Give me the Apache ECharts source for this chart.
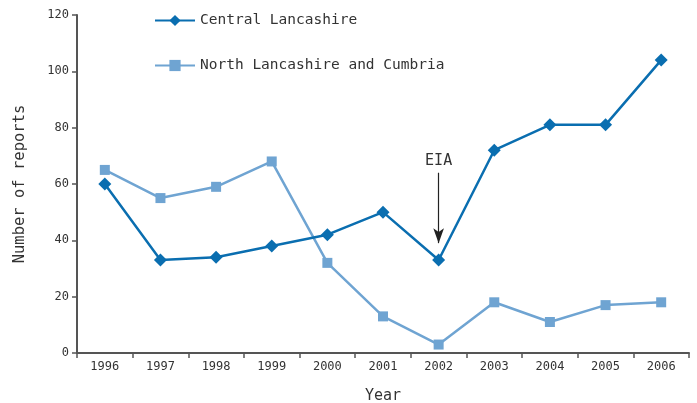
<!DOCTYPE html>
<html>
<head>
<meta charset="utf-8">
<script src="https://cdn.jsdelivr.net/npm/echarts@6/dist/echarts.min.js"></script>
<style>
html,body{margin:0;padding:0;background:#fff;}
#chart{width:697px;height:403px;}
</style>
</head>
<body>
<div id="chart"></div>
<script>
var years = ['1996','1997','1998','1999','2000','2001','2002','2003','2004','2005','2006'];
var central = [60, 33, 34, 38, 42, 50, 33, 72, 81, 81, 104];
var north = [65, 55, 59, 68, 32, 13, 3, 18, 11, 17, 18];
var yTicks = [0, 20, 40, 60, 80, 100, 120];
var eiaYear = '2002', eiaFrom = 64, eiaTo = 39;

var FONT = 'DejaVu Sans Mono';
var axisColor = '#555555';
var textColor = '#333333';

var myChart = echarts.init(document.getElementById('chart'));
var option = {
    animation: false,
    textStyle: {fontFamily: FONT},
    grid: {left: 77, right: 8, top: 15, bottom: 50, outerBoundsMode: 'none', containLabel: false},
    legend: {
        orient: 'vertical',
        left: 149,
        top: 8,
        itemWidth: 40,
        itemHeight: 14,
        itemGap: 30,
        textStyle: {fontFamily: FONT, fontSize: 14.5, color: textColor},
        data: ['Central Lancashire', 'North Lancashire and Cumbria']
    },
    xAxis: {
        type: 'category',
        data: years,
        boundaryGap: true,
        name: 'Year',
        nameLocation: 'middle',
        nameGap: 36,
        nameTextStyle: {fontFamily: FONT, fontSize: 15, color: textColor},
        axisLine: {lineStyle: {color: axisColor, width: 2}},
        axisTick: {show: true, length: 5, lineStyle: {color: axisColor, width: 1.5}},
        axisLabel: {fontFamily: FONT, fontSize: 12, color: textColor, margin: 8},
        splitLine: {show: false}
    },
    yAxis: {
        type: 'value',
        min: yTicks[0],
        max: yTicks[yTicks.length - 1],
        interval: 20,
        name: 'Number of reports',
        nameLocation: 'middle',
        nameGap: 49,
        nameTextStyle: {fontFamily: FONT, fontSize: 15.5, color: textColor},
        axisLine: {show: true, lineStyle: {color: axisColor, width: 2}},
        axisTick: {show: true, length: 5, lineStyle: {color: axisColor, width: 1.5}},
        axisLabel: {fontFamily: FONT, fontSize: 12, color: textColor, margin: 8},
        splitLine: {show: false}
    },
    series: [
        {
            name: 'Central Lancashire',
            type: 'line',
            data: central,
            symbol: 'diamond',
            symbolSize: 13,
            lineStyle: {color: '#0a6eb0', width: 2.5},
            itemStyle: {color: '#0a6eb0'},
            z: 3,
            markLine: {
                silent: true,
                symbol: ['none', 'arrow'],
                symbolSize: [8, 15],
                lineStyle: {color: '#222', width: 1.2, type: 'solid'},
                label: {show: true, position: 'start', formatter: 'EIA', fontFamily: FONT, fontSize: 15, color: textColor, distance: 4},
                data: [[
                    {coord: [eiaYear, eiaFrom]},
                    {coord: [eiaYear, eiaTo]}
                ]]
            }
        },
        {
            name: 'North Lancashire and Cumbria',
            type: 'line',
            data: north,
            symbol: 'rect',
            symbolSize: 10,
            lineStyle: {color: '#6fa4d2', width: 2.5},
            itemStyle: {color: '#6fa4d2'},
            z: 2
        }
    ]
};
myChart.setOption(option);
</script>
</body>
</html>
